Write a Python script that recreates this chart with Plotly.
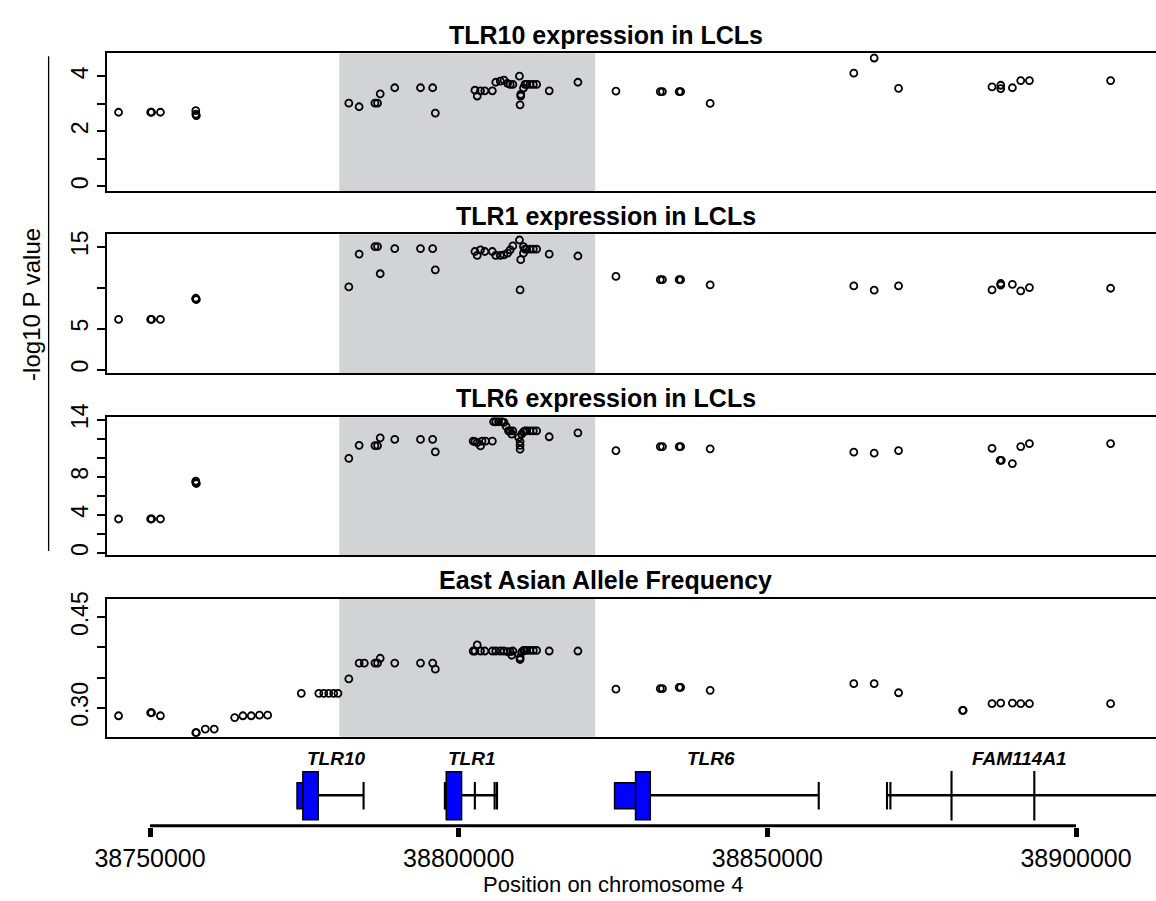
import plotly.graph_objects as go

W, H = 1156, 901

# ---------------- data ----------------
tlr10_pos = [38744900, 38750100, 38750250, 38751680, 38757410, 38757410, 38757500,
             38782200, 38783870, 38786430, 38786850, 38787280, 38789640, 38793810,
             38795780, 38796210, 38802630, 38803000, 38803530, 38804230, 38805450,
             38806000, 38806740, 38807330, 38807920, 38808340, 38808770, 38809840,
             38810050, 38810050, 38809940, 38810490, 38810730, 38811020, 38811550,
             38812090, 38812620, 38814660, 38819310, 38825470, 38832650, 38833000,
             38835710, 38835950, 38840730, 38864000, 38867300, 38871250, 38886390,
             38887800, 38887800, 38889690, 38891040, 38892450, 38905600]
tlr10_val = [2.69, 2.69, 2.69, 2.69, 2.75, 2.62, 2.57,
             3.02, 2.89, 3.02, 3.02, 3.36, 3.58, 3.58,
             3.58, 2.66, 3.49, 3.28, 3.47, 3.47, 3.47,
             3.78, 3.82, 3.86, 3.74, 3.70, 3.70, 4.00,
             3.28, 3.34, 2.96, 3.57, 3.70, 3.70, 3.70,
             3.70, 3.70, 3.47, 3.78, 3.46, 3.44, 3.44,
             3.44, 3.44, 3.01, 4.11, 4.66, 3.56, 3.61,
             3.67, 3.55, 3.58, 3.84, 3.84, 3.84]

tlr1_pos = [38744900, 38750100, 38750250, 38751680, 38757410, 38757410, 38757500,
            38782200, 38783870, 38786430, 38786850, 38787280, 38789640, 38793810,
            38795780, 38796210, 38802630, 38803000, 38803530, 38804230, 38805450,
            38806000, 38806740, 38807330, 38807920, 38808340, 38808770, 38809840,
            38810050, 38809940, 38810490, 38810490, 38810730, 38811020, 38811550,
            38812090, 38812620, 38814660, 38819310, 38825470, 38832650, 38833000,
            38835710, 38835950, 38840730, 38864000, 38867300, 38871250, 38886390,
            38887800, 38887800, 38889690, 38891040, 38892450, 38905600]
tlr1_val = [6.12, 6.12, 6.12, 6.12, 8.70, 8.60, 8.55,
            10.08, 14.09, 15.00, 15.00, 11.69, 14.76, 14.76,
            14.76, 12.17, 14.40, 13.92, 14.60, 14.40, 14.40,
            13.92, 13.92, 14.00, 14.20, 14.60, 15.08, 15.80,
            13.40, 9.72, 15.00, 14.20, 14.70, 14.70, 14.70,
            14.70, 14.70, 14.09, 13.85, 11.36, 10.96, 10.96,
            10.96, 10.96, 10.32, 10.20, 9.68, 10.20, 9.72,
            10.50, 10.30, 10.40, 9.60, 10.00, 9.92]

tlr6_pos = [38744900, 38750100, 38750250, 38751680, 38757410, 38757410, 38757500,
            38782200, 38783870, 38786430, 38786850, 38787280, 38789640, 38793810,
            38795780, 38796210, 38802340, 38802630, 38803000, 38803530, 38803780,
            38804340, 38805450, 38805660, 38806000, 38806460, 38806990, 38807330,
            38807680, 38808060, 38808340, 38808590, 38808770, 38809720, 38809940,
            38809940, 38809940, 38810200, 38810490, 38810730, 38811020, 38811550,
            38812090, 38812620, 38814660, 38819310, 38825470, 38832650, 38833000,
            38835710, 38835950, 38840730, 38864000, 38867300, 38871250, 38886390,
            38887700, 38887900, 38889690, 38891040, 38892450, 38905600]
tlr6_val = [3.57, 3.57, 3.57, 3.57, 7.55, 7.40, 7.30,
            9.94, 11.31, 11.28, 11.28, 12.10, 11.93, 11.93,
            11.93, 10.63, 11.76, 11.70, 11.59, 11.25, 11.76,
            11.76, 11.76, 13.79, 13.79, 13.79, 13.79, 13.72,
            13.31, 12.83, 12.83, 12.48, 12.83, 12.14, 11.69,
            11.31, 10.90, 12.48, 12.72, 12.83, 12.83, 12.83,
            12.83, 12.83, 12.21, 12.62, 10.76, 11.18, 11.18,
            11.18, 11.18, 10.94, 10.59, 10.49, 10.76, 11.00,
            9.73, 9.73, 9.39, 11.18, 11.49, 11.49]

eas_pos = [38744900, 38750100, 38750250, 38751680, 38757410, 38757500, 38758950,
           38760390, 38763710, 38765040, 38766390, 38767720, 38769050, 38774500,
           38777340, 38778140, 38778940, 38779750, 38780440, 38782200, 38783870,
           38784710, 38786430, 38786850, 38787280, 38789640, 38793810, 38795780,
           38796210, 38802340, 38802630, 38803000, 38803530, 38804230, 38805450,
           38806000, 38806740, 38807330, 38807920, 38808340, 38808590, 38808770,
           38809940, 38809940, 38810200, 38810490, 38810730, 38811020, 38811550,
           38812090, 38812620, 38814660, 38819310, 38825470, 38832650, 38833000,
           38835710, 38835950, 38840730, 38864000, 38867300, 38871250, 38881620,
           38881720, 38886390, 38887800, 38889690, 38891040, 38892450, 38905600]
eas_val = [0.287, 0.292, 0.292, 0.287, 0.259, 0.259, 0.265,
           0.265, 0.284, 0.287, 0.287, 0.288, 0.288, 0.324,
           0.324, 0.324, 0.324, 0.324, 0.324, 0.348, 0.374,
           0.374, 0.374, 0.374, 0.382, 0.374, 0.374, 0.374,
           0.364, 0.394, 0.394, 0.404, 0.394, 0.394, 0.394,
           0.394, 0.394, 0.394, 0.393, 0.393, 0.387, 0.394,
           0.383, 0.380, 0.392, 0.395, 0.395, 0.395, 0.395,
           0.395, 0.395, 0.394, 0.394, 0.331, 0.332, 0.332,
           0.334, 0.334, 0.329, 0.340, 0.340, 0.325, 0.296,
           0.296, 0.307, 0.308, 0.308, 0.307, 0.307, 0.307]

panel_titles = ["TLR10 expression in LCLs", "TLR1 expression in LCLs",
                "TLR6 expression in LCLs", "East Asian Allele Frequency"]

# highlighted region (bp)
region_start, region_end = 38780650, 38822100

# genes
gene_names = ["TLR10", "TLR1", "TLR6", "FAM114A1"]
gene_label_pos = [38780250, 38802180, 38840800, 38890830]
gene_line_start = [38773806, 38797708, 38825248, 38869330]
gene_line_end = [38784590, 38806204, 38858320, 38930000]
exon_start = [38773806, 38774752, 38784540,
              38797708, 38797981, 38802565, 38805770, 38806155,
              38825248, 38828646, 38858270,
              38869330, 38869880, 38879780, 38893190]
exon_end = [38774752, 38777236, 38784640,
            38797981, 38800465, 38802665, 38805870, 38806255,
            38828646, 38831035, 38858370,
            38869430, 38869980, 38879880, 38893290]
exon_tall = [0, 1, 0,
             0, 1, 0, 0, 0,
             0, 1, 0,
             0, 0, 1, 1]

x_ticks = [38750000, 38800000, 38850000, 38900000]
x_ticktext = ["38750000", "38800000", "38850000", "38900000"]
x_title = "Position on chromosome 4"
y_title = "-log10 P value"

# ---------------- layout helpers ----------------
def px(x):
    return x / W

def py(y):
    return 1 - y / H

FONT = "Liberation Sans, Arial, Helvetica, sans-serif"
X_RANGE = [38743027, 38912953]
XDOM = [px(96), 1.0]

panels = [
    dict(pos=tlr10_pos, val=tlr10_val, top=40, bot=180, rng=[-0.17, 4.83],
         tickvals=[0, 1, 2, 3, 4], ticktext=["0", "", "2", "", "4"]),
    dict(pos=tlr1_pos, val=tlr1_val, top=224, bot=365, rng=[-0.4, 16.5],
         tickvals=[0, 5, 10, 15], ticktext=["0", "5", "", "15"]),
    dict(pos=tlr6_pos, val=tlr6_val, top=410, bot=550.5, rng=[-0.25, 14.27],
         tickvals=[0, 2, 4, 6, 8, 10, 12, 14],
         ticktext=["0", "", "4", "", "8", "", "", "14"]),
    dict(pos=eas_pos, val=eas_val, top=595, bot=735, rng=[0.2523, 0.4798],
         tickvals=[0.30, 0.35, 0.40, 0.45], ticktext=["0.30", "", "", "0.45"]),
]

fig = go.Figure()
layout = dict(width=W, height=H, margin=dict(l=0, r=0, t=0, b=0),
              paper_bgcolor="white", plot_bgcolor="white", showlegend=False,
              font=dict(family=FONT, color="black"))
shapes = []
annotations = []

for i, p in enumerate(panels):
    k = i + 1
    xs = "x" if k == 1 else f"x{k}"
    ys = "y" if k == 1 else f"y{k}"
    fig.add_trace(go.Scatter(
        x=p["pos"], y=p["val"], mode="markers", xaxis=xs, yaxis=ys,
        marker=dict(symbol="circle-open", size=7, color="black",
                    line=dict(width=1.8, color="black")),
        hoverinfo="x+y"))
    layout["xaxis" if k == 1 else f"xaxis{k}"] = dict(
        domain=XDOM, range=X_RANGE, anchor=ys, showline=True, mirror=True,
        linecolor="black", linewidth=1.8, showgrid=False, zeroline=False,
        showticklabels=False, ticks="")
    layout["yaxis" if k == 1 else f"yaxis{k}"] = dict(
        domain=[py(p["bot"]), py(p["top"])], range=p["rng"], anchor=xs,
        showline=True, mirror=False, linecolor="black", linewidth=1.8,
        showgrid=False, zeroline=False, ticks="outside", ticklen=8,
        tickwidth=1.5, tickcolor="black", tickvals=p["tickvals"],
        ticktext=p["ticktext"], tickangle=-90,
        tickfont=dict(size=23, family=FONT, color="black"))
    shapes.append(dict(type="rect", xref=xs, yref=f"{ys} domain",
                       x0=region_start, x1=region_end, y0=0, y1=1,
                       fillcolor="#d2d3d5", line=dict(width=0), layer="below"))
    annotations.append(dict(text=f"<b>{panel_titles[i]}</b>", xref="paper",
                            yref="paper", x=px(600), y=py(p["top"] - 19),
                            showarrow=False, xanchor="center", yanchor="middle",
                            font=dict(size=25, family=FONT, color="black")))

# gene track
GT_TOP, GT_BOT = 745, 827
layout["xaxis5"] = dict(domain=XDOM, range=X_RANGE, anchor="y5", showline=False,
                        showgrid=False, zeroline=False, ticks="outside",
                        ticklen=9, tickwidth=5, tickcolor="black",
                        tickvals=x_ticks, ticktext=x_ticktext,
                        tickfont=dict(size=25, family=FONT, color="black"))
layout["yaxis5"] = dict(domain=[py(GT_BOT), py(GT_TOP)], range=[0, GT_BOT - GT_TOP],
                        anchor="x5", visible=False)
TALL = (7.7, 56.3)
SHORT = (18.7, 45.3)
MID = 32.6
for s, e in zip(gene_line_start, gene_line_end):
    shapes.append(dict(type="line", xref="x5", yref="y5", x0=s, x1=e, y0=MID, y1=MID,
                       line=dict(color="black", width=2.6)))
for s, e, t in zip(exon_start, exon_end, exon_tall):
    y0, y1 = TALL if t else SHORT
    shapes.append(dict(type="rect", xref="x5", yref="y5", x0=s, x1=e, y0=y0, y1=y1,
                       fillcolor="#0000ff", line=dict(color="black", width=1.5)))
for name, pos in zip(gene_names, gene_label_pos):
    annotations.append(dict(text=f"<b><i>{name}</i></b>", xref="x5", yref="y5",
                            x=pos, y=GT_BOT - 757, showarrow=False,
                            xanchor="center", yanchor="middle",
                            font=dict(size=19, family=FONT, color="black")))
# thick axis baseline
shapes.append(dict(type="line", xref="x5", yref="y5", x0=x_ticks[0], x1=x_ticks[-1],
                   y0=0, y1=0, line=dict(color="black", width=6)))

# axis titles
annotations.append(dict(text=x_title, xref="paper", yref="paper", x=px(607), y=py(885),
                        showarrow=False, xanchor="center", yanchor="middle",
                        font=dict(size=22, family=FONT, color="black")))
annotations.append(dict(text=y_title, xref="paper", yref="paper", x=px(19), y=py(295),
                        showarrow=False, xanchor="center", yanchor="middle",
                        textangle=-90,
                        font=dict(size=24, family=FONT, color="black")))
shapes.append(dict(type="line", xref="paper", yref="paper", x0=px(37), x1=px(37),
                   y0=py(43), y1=py(546), line=dict(color="black", width=1.3)))

layout["shapes"] = shapes
layout["annotations"] = annotations
fig.update_layout(**layout)
fig.write_html("out.html")
